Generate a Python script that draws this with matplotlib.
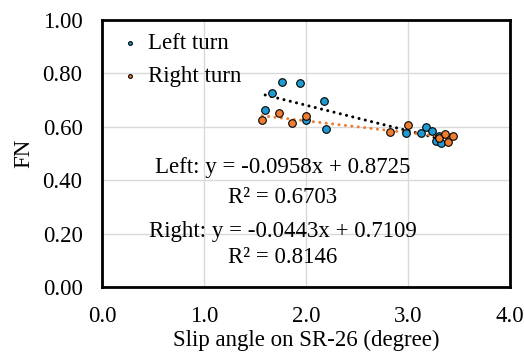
import matplotlib

matplotlib.use("Agg")
import matplotlib.pyplot as plt  # noqa: E402
import numpy as np  # noqa: E402

# slip angle (deg) vs FN
left_x = [1.60, 1.67, 1.76, 1.94, 2.00, 2.18, 2.20, 2.98, 3.13, 3.18, 3.24, 3.27, 3.30, 3.32]
left_y = [0.663, 0.726, 0.767, 0.763, 0.626, 0.696, 0.593, 0.578, 0.578, 0.600, 0.585, 0.548, 0.567, 0.541]
right_x = [1.57, 1.74, 1.86, 2.00, 2.82, 3.00, 3.30, 3.36, 3.39, 3.44]
right_y = [0.626, 0.652, 0.615, 0.641, 0.581, 0.607, 0.559, 0.574, 0.544, 0.567]

left_fit = (-0.0958, 0.8725)
right_fit = (-0.0443, 0.7109)
left_r2 = 0.6703
right_r2 = 0.8146

x_ticks = [0.0, 1.0, 2.0, 3.0, 4.0]
y_ticks = [0.0, 0.2, 0.4, 0.6, 0.8, 1.0]

BLUE = "#1f9bd1"
ORANGE = "#ee7d31"
FS = 16.5

plt.rcParams["font.family"] = ["Liberation Serif", "DejaVu Serif"]

fig = plt.figure(figsize=(5.24, 3.6), dpi=100)
ax = fig.add_axes([102 / 524, 1 - 287 / 360, (510 - 102) / 524, (287 - 20) / 360])

for (m, b), xs, col in ((left_fit, left_x, "black"), (right_fit, right_x, ORANGE)):
    xx = np.array([min(xs), max(xs)])
    ax.plot(xx, m * xx + b, color=col, linestyle=(0, (0.01, 2.1)), linewidth=2.2,
            dash_capstyle="round", zorder=2)

ax.scatter(left_x, left_y, s=30, color=BLUE, edgecolor="black", linewidth=0.8,
           label="Left turn", zorder=3)
ax.scatter(right_x, right_y, s=30, color=ORANGE, edgecolor="black", linewidth=0.8,
           label="Right turn", zorder=3)

ax.set_xlim(0, 4)
ax.set_ylim(0, 1)
ax.set_xticks(x_ticks)
ax.set_xticklabels([f"{v:.1f}" for v in x_ticks])
ax.set_yticks(y_ticks)
ax.set_yticklabels([f"{v:.2f}" for v in y_ticks])
ax.tick_params(length=0, labelsize=FS, pad=14)
ax.grid(True, color="#d9d9d9", linewidth=1)
ax.set_axisbelow(True)
for s in ax.spines.values():
    s.set_linewidth(2)
    s.set_color("black")

ax.set_xlabel("Slip angle on SR-26 (degree)", fontsize=FS, labelpad=2)
ax.set_ylabel("FN", fontsize=FS, labelpad=6)

ax.legend(loc="upper left", bbox_to_anchor=(0.0, 1.01), frameon=False, fontsize=FS,
          markerscale=0.5, handletextpad=0.3, borderpad=0.2, labelspacing=0.5,
          handlelength=1.0)

tx = 1.77
ax.text(tx, 0.448, f"Left: y = {left_fit[0]:.4f}x + {left_fit[1]:.4f}", fontsize=FS,
        ha="center", va="center")
ax.text(tx, 0.337, f"R² = {left_r2:.4f}", fontsize=FS, ha="center", va="center")
ax.text(tx, 0.207, f"Right: y = {right_fit[0]:.4f}x + {right_fit[1]:.4f}", fontsize=FS,
        ha="center", va="center")
ax.text(tx, 0.111, f"R² = {right_r2:.4f}", fontsize=FS, ha="center", va="center")

fig.savefig("out.png", dpi=100)
